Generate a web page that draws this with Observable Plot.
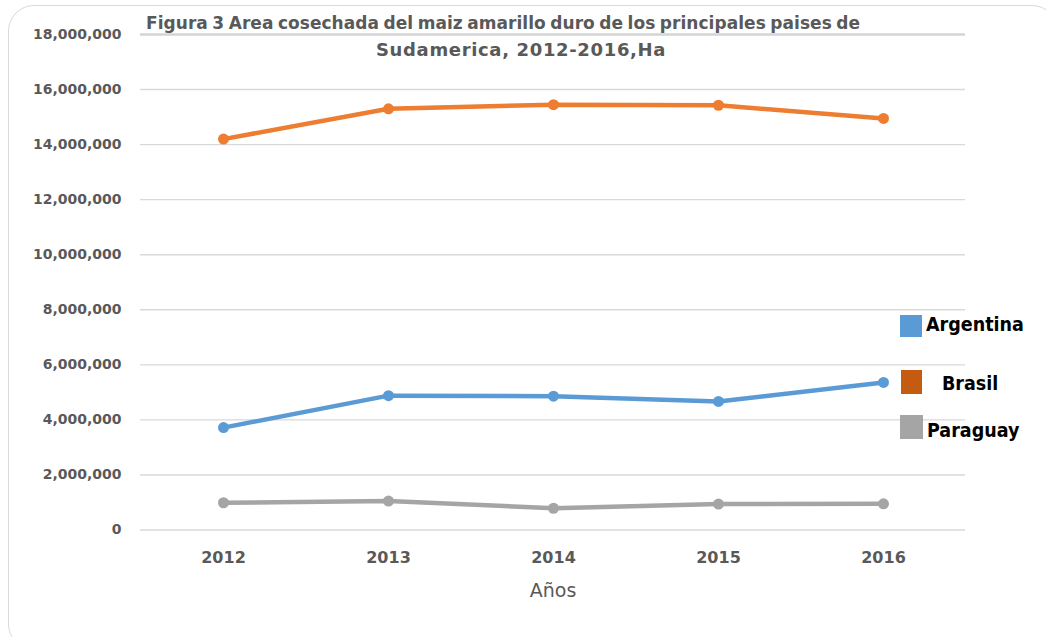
<!DOCTYPE html>
<html>
<head>
<meta charset="utf-8">
<script src="https://cdn.jsdelivr.net/npm/d3@7"></script>
<script src="https://cdn.jsdelivr.net/npm/@observablehq/plot@0.6"></script>
<style>
  html, body { margin: 0; padding: 0; background: #fff; overflow: hidden; }
  #wrap { position: relative; width: 1046px; height: 637px; }
  #frame { position: absolute; left: 8px; top: 5px; width: 1050px; height: 645px;
    border: 1.5px solid #d9d9d9; border-radius: 26px; box-sizing: border-box; }
  #chart { position: absolute; left: 0; top: 0; }
  .title { position: absolute; white-space: nowrap;
    font-family: "DejaVu Sans", sans-serif; font-weight: bold; color: #595959; font-size: 17px; line-height: 20px; }
  #t1 { top: 13px; left: 146px; letter-spacing: 0.05px; word-spacing: -1.5px; }
  #t2 { top: 40px; left: 376px; font-size: 18px; letter-spacing: 0.65px; }
  .leg { position: absolute; font-family: "DejaVu Sans Condensed", "DejaVu Sans", sans-serif; font-weight: bold;
    font-size: 19.5px; color: #000; line-height: 22px; white-space: nowrap; }
  .sw { position: absolute; }
  #chart text { font-family: "DejaVu Sans", sans-serif; }
</style>
</head>
<body>
<div id="wrap">
  <div id="frame"></div>
  <div id="chart"></div>
  <div class="title" id="t1">Figura 3 Area cosechada del maiz amarillo duro de los principales paises de</div>
  <div class="title" id="t2">Sudamerica, 2012-2016,Ha</div>
  <div id="legend"></div>
</div>
<script>
const years = ["2012", "2013", "2014", "2015", "2016"];
const argentina = [3720000, 4880000, 4860000, 4670000, 5360000];
const brasil = [14200000, 15300000, 15450000, 15430000, 14950000];
const paraguay = [990000, 1050000, 790000, 940000, 950000];
const seriesNames = ["Argentina", "Brasil", "Paraguay"];
const lineColors = ["#5B9BD5", "#ED7D31", "#A5A5A5"];
const legendColors = ["#5B9BD5", "#C55A11", "#A5A5A5"];
const yTicks = [0, 2000000, 4000000, 6000000, 8000000, 10000000, 12000000, 14000000, 16000000, 18000000];
const xLabel = "Años";

const seriesValues = [argentina, brasil, paraguay];
const data = [];
seriesNames.forEach((s, i) => years.forEach((y, j) => data.push({serie: s, year: y, value: seriesValues[i][j]})));

const plot = Plot.plot({
  width: 1046,
  height: 637,
  marginLeft: 140,
  marginRight: 81,
  marginTop: 34,
  marginBottom: 107.5,
  style: { background: "transparent", overflow: "visible" },
  x: { type: "point", domain: years, padding: 0.5 },
  y: { domain: [0, 18000000] },
  color: { domain: seriesNames, range: lineColors },
  marks: [
    Plot.ruleY(yTicks.slice(0, -1), { stroke: "#d9d9d9", strokeWidth: 1.4, strokeOpacity: 1 }),
    Plot.ruleY(yTicks.slice(-1), { stroke: "#d4d4d4", strokeWidth: 2.5, strokeOpacity: 1 }),
    Plot.axisY({ ticks: yTicks, tickSize: 0, tickPadding: 19, tickFormat: d3.format(","), label: null,
      fontSize: 14, fontWeight: "bold", fill: "#595959" }),
    Plot.axisX({ tickSize: 0, tickPadding: 22, label: null, fontSize: 16, fontWeight: "bold", fill: "#595959",
      fontFamily: "DejaVu Sans Condensed" }),
    Plot.text([xLabel], { frameAnchor: "bottom", dy: 67, fontSize: 19, fill: "#595959",
      fontFamily: "Liberation Sans Narrow, Liberation Sans, sans-serif" }),
    Plot.line(data, { x: "year", y: "value", z: "serie", stroke: "serie", strokeWidth: 4.5 }),
    Plot.dot(data, { x: "year", y: "value", fill: "serie", r: 5.5, stroke: "none" })
  ]
});
document.getElementById("chart").appendChild(plot);

// legend
const legend = document.getElementById("legend");
const legPos = [
  { sx: 900, sy: 315, sw: 22, sh: 22, tx: 926, ty: 314 },
  { sx: 901, sy: 370, sw: 21, sh: 24, tx: 942, ty: 373 },
  { sx: 900, sy: 415, sw: 23, sh: 24, tx: 927, ty: 420 }
];
seriesNames.forEach((s, i) => {
  const p = legPos[i];
  const sw = document.createElement("div");
  sw.className = "sw";
  Object.assign(sw.style, { left: p.sx + "px", top: p.sy + "px", width: p.sw + "px", height: p.sh + "px", background: legendColors[i] });
  legend.appendChild(sw);
  const t = document.createElement("div");
  t.className = "leg";
  t.textContent = s;
  Object.assign(t.style, { left: p.tx + "px", top: p.ty + "px" });
  legend.appendChild(t);
});
</script>
</body>
</html>
